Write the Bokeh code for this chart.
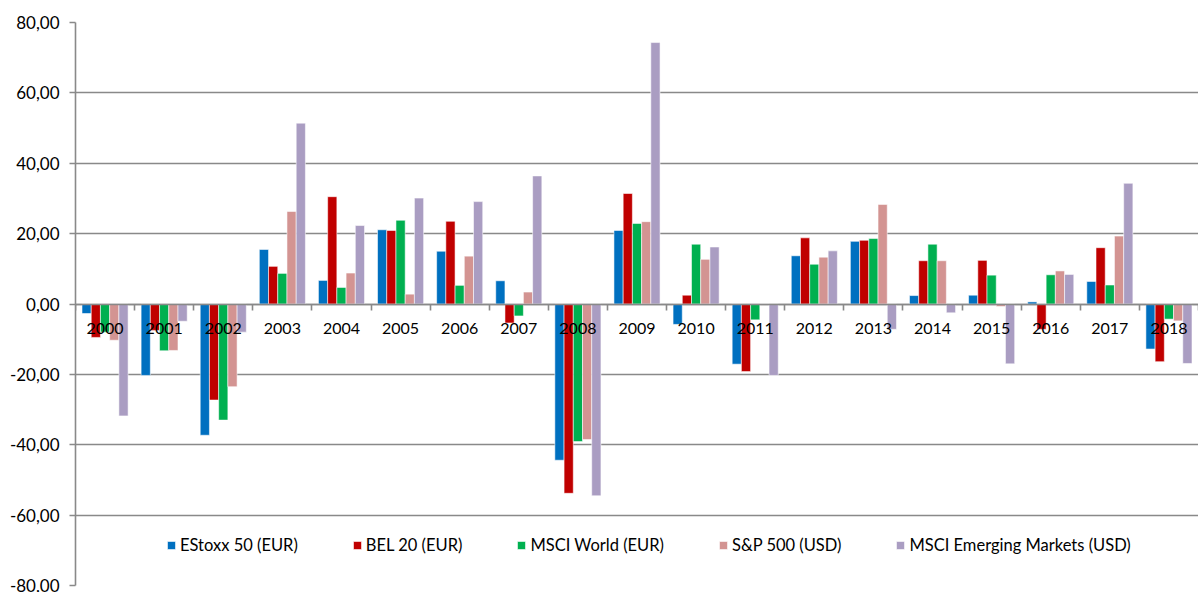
from bokeh.plotting import figure
from bokeh.models import (ColumnDataSource, Range1d, LinearAxis, FixedTicker,
                          CustomJSTickFormatter, Legend, LegendItem)
from bokeh.core.properties import value
from bokeh.embed import file_html
from bokeh.resources import INLINE

years = ["2000", "2001", "2002", "2003", "2004", "2005", "2006", "2007", "2008", "2009",
         "2010", "2011", "2012", "2013", "2014", "2015", "2016", "2017", "2018"]

estoxx = [-2.7, -20.3, -37.3, 15.5, 6.7, 21.1, 15.0, 6.6, -44.4, 20.9,
          -5.8, -17.1, 13.7, 17.8, 2.4, 2.5, 0.6, 6.4, -12.8]
bel20 = [-9.5, -7.5, -27.3, 10.7, 30.5, 20.9, 23.5, -5.4, -53.8, 31.4,
         2.5, -19.2, 18.8, 18.1, 12.3, 12.4, -7.2, 16.0, -16.4]
msci_world = [-8.0, -13.3, -33.0, 8.7, 4.7, 23.8, 5.3, -3.4, -39.1, 22.9,
              17.0, -4.5, 11.3, 18.6, 17.0, 8.2, 8.3, 5.4, -4.3]
sp500 = [-10.3, -13.2, -23.5, 26.3, 8.8, 2.8, 13.6, 3.4, -38.5, 23.4,
         12.7, 0.0, 13.3, 28.3, 12.3, -0.7, 9.4, 19.3, -4.8]
msci_em = [-31.8, -4.9, -8.0, 51.4, 22.3, 30.1, 29.1, 36.4, -54.5, 74.3,
           16.2, -20.3, 15.1, -7.2, -2.5, -17.0, 8.4, 34.3, -16.9]

series_names = ["EStoxx 50 (EUR)", "BEL 20 (EUR)", "MSCI World (EUR)",
                "S&P 500 (USD)", "MSCI Emerging Markets (USD)"]
series_values = [estoxx, bel20, msci_world, sp500, msci_em]
colors = ["#0070C0", "#C00000", "#00B050", "#D39492", "#AA9DC2"]

y_ticks = [-80, -60, -40, -20, 0, 20, 40, 60, 80]

FONT = "Lato"
GRID = "#898989"

n = len(years)
p = figure(width=1198, height=592, output_backend="svg", toolbar_location=None,
           x_range=Range1d(0, n), y_range=Range1d(-80, 80),
           min_border_left=75, min_border_right=0, min_border_top=22,
           min_border_bottom=7, outline_line_color=None, y_axis_location=None,
           x_axis_location=None)
p.background_fill_color = "white"
p.border_fill_color = "white"

# gridlines
p.xgrid.visible = False
p.ygrid.ticker = FixedTicker(ticks=y_ticks)
p.ygrid.grid_line_color = GRID
p.ygrid.grid_line_width = 1.6

# y axis
yaxis = LinearAxis(ticker=FixedTicker(ticks=y_ticks, minor_ticks=[]))
yaxis.formatter = CustomJSTickFormatter(code="return tick.toFixed(2).replace('.', ',');")
yaxis.axis_line_color = GRID
yaxis.axis_line_width = 1.6
yaxis.major_tick_line_color = GRID
yaxis.major_tick_line_width = 1.6
yaxis.major_tick_out = 6
yaxis.major_tick_in = 0
yaxis.major_label_standoff = 10
yaxis.major_label_text_font = FONT
yaxis.major_label_text_font_size = "17px"
yaxis.major_label_text_color = "#000000"
p.add_layout(yaxis, "left")

# bars
bw = 0.156
items = []
for j, (name, vals, col) in enumerate(zip(series_names, series_values, colors)):
    xs = [i + 0.5 + (j - 2) * bw for i in range(n)]
    src = ColumnDataSource(dict(x=xs, top=vals))
    r = p.vbar(x="x", top="top", bottom=0, width=bw, source=src,
               fill_color=col, line_color="white", line_alpha=0.55, line_width=1)
    items.append(LegendItem(label=name, renderers=[r]))

# category axis at zero with boundary ticks pointing down
xaxis = LinearAxis(ticker=FixedTicker(ticks=list(range(n + 1)), minor_ticks=[]),
                   fixed_location=0)
xaxis.formatter = CustomJSTickFormatter(code="return '';")
xaxis.axis_line_color = GRID
xaxis.axis_line_width = 1.6
xaxis.major_tick_line_color = GRID
xaxis.major_tick_line_width = 1.6
xaxis.major_tick_in = 6
xaxis.major_tick_out = 0
xaxis.major_label_standoff = 0
p.add_layout(xaxis, "above")

# year labels at the zero line
lsrc = ColumnDataSource(dict(x=[i + 0.5 for i in range(n)], y=[0] * n, t=years))
p.text(x="x", y="y", text="t", source=lsrc, text_align="center",
       text_baseline="middle", y_offset=24, text_font=value(FONT),
       text_font_size="16px", text_color="#000000")

legend = Legend(items=items, orientation="horizontal", location=(91, 30),
                border_line_color=None, background_fill_alpha=0,
                glyph_width=10, glyph_height=10, label_standoff=4,
                spacing=54, padding=0, margin=0,
                label_text_font=FONT, label_text_font_size="16.5px",
                label_text_color="#000000", label_height=16)
p.add_layout(legend, "center")

open("out.html", "w").write(file_html(p, INLINE))
